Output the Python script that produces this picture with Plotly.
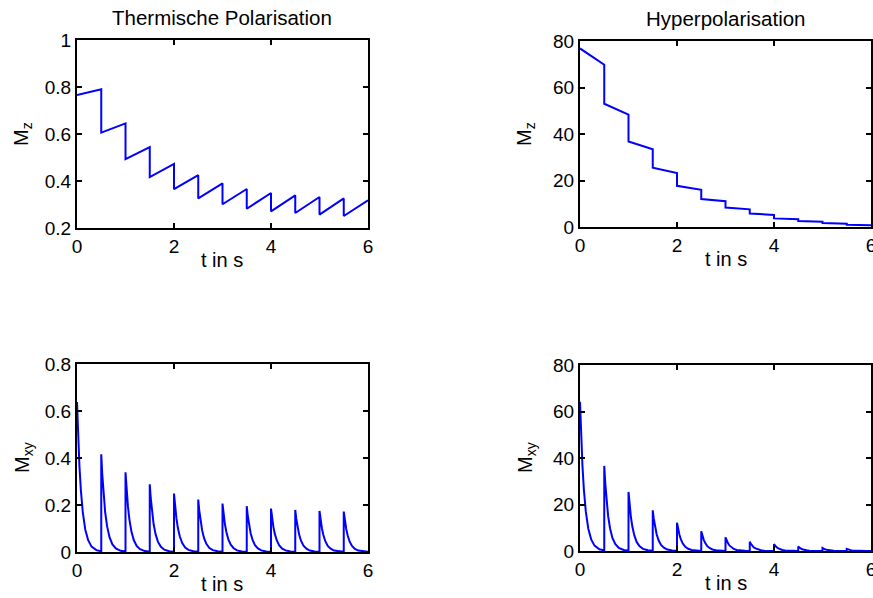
import plotly.graph_objects as go

# ---------------- data ----------------
pulse_times = [0.0, 0.5, 1.0, 1.5, 2.0, 2.5, 3.0, 3.5, 4.0, 4.5, 5.0, 5.5]
seg_len = 0.5

# Mz, thermal polarisation: value right after each pulse and right before the next
mz_therm_start = [0.766, 0.606, 0.493, 0.417, 0.365, 0.326, 0.301, 0.282, 0.271, 0.264, 0.257, 0.251]
mz_therm_end = [0.790, 0.645, 0.544, 0.473, 0.425, 0.390, 0.366, 0.349, 0.339, 0.332, 0.326, 0.318]

# Mz, hyperpolarisation
mz_hyper_start = [76.8, 53.0, 36.8, 25.5, 17.7, 12.0, 8.4, 5.8, 3.7, 2.6, 1.7, 1.0]
mz_hyper_end = [69.8, 48.3, 33.4, 23.2, 16.0, 11.1, 7.6, 5.2, 3.3, 2.3, 1.4, 0.7]

# Mxy decay inside each 0.5 s interval, sampled at these offsets after the pulse
decay_offsets = [0.0, 0.02, 0.05, 0.08, 0.12, 0.17, 0.23, 0.30, 0.40, 0.50]

mxy_therm = [
    [0.638, 0.510, 0.366, 0.262, 0.168, 0.096, 0.050, 0.023, 0.008, 0.003],
    [0.416, 0.333, 0.239, 0.171, 0.110, 0.063, 0.032, 0.015, 0.005, 0.002],
    [0.339, 0.271, 0.195, 0.139, 0.089, 0.051, 0.026, 0.012, 0.004, 0.001],
    [0.288, 0.230, 0.165, 0.118, 0.076, 0.043, 0.022, 0.010, 0.003, 0.001],
    [0.249, 0.199, 0.143, 0.102, 0.066, 0.038, 0.019, 0.009, 0.003, 0.001],
    [0.223, 0.178, 0.128, 0.092, 0.059, 0.034, 0.017, 0.008, 0.003, 0.001],
    [0.206, 0.165, 0.118, 0.085, 0.054, 0.031, 0.016, 0.007, 0.002, 0.001],
    [0.195, 0.156, 0.112, 0.080, 0.051, 0.029, 0.015, 0.007, 0.002, 0.001],
    [0.185, 0.148, 0.106, 0.076, 0.049, 0.028, 0.014, 0.007, 0.002, 0.001],
    [0.179, 0.143, 0.103, 0.074, 0.047, 0.027, 0.014, 0.006, 0.002, 0.001],
    [0.175, 0.140, 0.100, 0.072, 0.046, 0.026, 0.014, 0.006, 0.002, 0.001],
    [0.172, 0.138, 0.099, 0.071, 0.045, 0.026, 0.013, 0.006, 0.002, 0.001],
]

mxy_hyper = [
    [64.2, 51.4, 36.9, 26.4, 16.9, 9.7, 5.0, 2.3, 0.77, 0.26],
    [36.6, 29.3, 21.0, 15.0, 9.7, 5.5, 2.9, 1.3, 0.44, 0.15],
    [25.4, 20.3, 14.6, 10.4, 6.7, 3.8, 2.0, 0.91, 0.30, 0.10],
    [17.5, 14.0, 10.0, 7.2, 4.6, 2.6, 1.4, 0.63, 0.21, 0.07],
    [12.2, 9.8, 7.0, 5.0, 3.2, 1.8, 0.95, 0.44, 0.15, 0.05],
    [8.5, 6.8, 4.9, 3.5, 2.2, 1.3, 0.66, 0.31, 0.10, 0.03],
    [5.9, 4.7, 3.4, 2.4, 1.6, 0.89, 0.46, 0.21, 0.07, 0.02],
    [4.0, 3.2, 2.3, 1.6, 1.1, 0.60, 0.31, 0.14, 0.05, 0.02],
    [2.9, 2.3, 1.7, 1.2, 0.77, 0.44, 0.23, 0.10, 0.03, 0.01],
    [1.9, 1.5, 1.1, 0.78, 0.50, 0.29, 0.15, 0.07, 0.02, 0.01],
    [1.3, 1.0, 0.75, 0.53, 0.34, 0.20, 0.10, 0.05, 0.02, 0.01],
    [0.9, 0.72, 0.52, 0.37, 0.24, 0.14, 0.07, 0.03, 0.01, 0.00],
]

titles = ["Thermische Polarisation", "Hyperpolarisation"]
x_label = "t in s"
y_label_mz = "M<sub>z</sub>"
y_label_mxy = "M<sub>xy</sub>"

# ---------------- build series ----------------
def mz_series(starts, ends):
    xs, ys = [], []
    for t0, a, b in zip(pulse_times, starts, ends):
        xs += [t0, t0 + seg_len]
        ys += [a, b]
    return xs, ys

def mxy_series(segments):
    xs, ys = [], []
    for t0, seg in zip(pulse_times, segments):
        xs += [t0 + d for d in decay_offsets]
        ys += seg
    return xs, ys

W, H = 873, 598
BLUE = "#0000ff"
FONT = "Liberation Sans, Arial, Helvetica, sans-serif"
FS = 19
FS_LABEL = 20
FS_TITLE = 20.5

def px_x(x):
    return x / W

def px_y(y):
    return 1 - y / H

fig = go.Figure()

panels = [
    # (series, xaxis id, yaxis id, px box (left, right, top, bottom), yrange, dtick, ylabel)
    (mz_series(mz_therm_start, mz_therm_end), "x", "y", (77, 368, 40, 228), [0.2, 1.0], 0.2, y_label_mz),
    (mz_series(mz_hyper_start, mz_hyper_end), "x2", "y2", (580, 871, 41, 227), [0, 80], 20, y_label_mz),
    (mxy_series(mxy_therm), "x3", "y3", (77, 368, 364, 552), [0, 0.8], 0.2, y_label_mxy),
    (mxy_series(mxy_hyper), "x4", "y4", (580, 871, 365, 551), [0, 80], 20, y_label_mxy),
]

layout_axes = {}
annotations = []
for (xs, ys), xa, ya, (l, r, t, b), yr, dt, ylab in panels:
    fig.add_trace(go.Scatter(x=xs, y=ys, mode="lines", xaxis=xa, yaxis=ya,
                             line=dict(color=BLUE, width=2), showlegend=False,
                             hoverinfo="skip"))
    xkey = "xaxis" + xa[1:]
    ykey = "yaxis" + ya[1:]
    common = dict(showline=True, linecolor="black", linewidth=2, mirror="ticks",
                  ticks="inside", ticklen=5, tickwidth=1.5, tickcolor="black",
                  showgrid=False, zeroline=False, automargin=False,
                  ticklabeloverflow="allow",
                  tickfont=dict(family=FONT, size=FS, color="black"))
    layout_axes[xkey] = dict(domain=[px_x(l), px_x(r)], range=[0, 6], dtick=2, tick0=0,
                             anchor=ya, **common)
    layout_axes[ykey] = dict(domain=[px_y(b), px_y(t)], range=yr, dtick=dt, tick0=0,
                             anchor=xa, **common)
    # x axis label
    annotations.append(dict(text=x_label, x=px_x((l + r) / 2), y=px_y(b + 32),
                            xref="paper", yref="paper", xanchor="center", yanchor="middle",
                            showarrow=False, font=dict(family=FONT, size=FS_LABEL, color="black")))
    # y axis label
    annotations.append(dict(text=ylab, x=px_x(l - 54), y=px_y((t + b) / 2),
                            xref="paper", yref="paper", xanchor="center", yanchor="middle",
                            textangle=-90, showarrow=False,
                            font=dict(family=FONT, size=FS_LABEL, color="black")))

fig.update_layout(**layout_axes)

for title, (l, r, ymid) in zip(titles, [(77, 368, 18), (580, 871, 19)]):
    annotations.append(dict(text=title, x=px_x((l + r) / 2), y=px_y(ymid),
                            xref="paper", yref="paper", xanchor="center", yanchor="middle",
                            showarrow=False, font=dict(family=FONT, size=FS_TITLE, color="black")))

fig.update_layout(width=W, height=H, margin=dict(l=0, r=0, t=0, b=0),
                  paper_bgcolor="white", plot_bgcolor="white",
                  annotations=annotations, font=dict(family=FONT, color="black"))

fig.write_html("out.html", config={"displayModeBar": False},
               post_script="document.body.style.margin='0';document.body.style.overflow='hidden';")
